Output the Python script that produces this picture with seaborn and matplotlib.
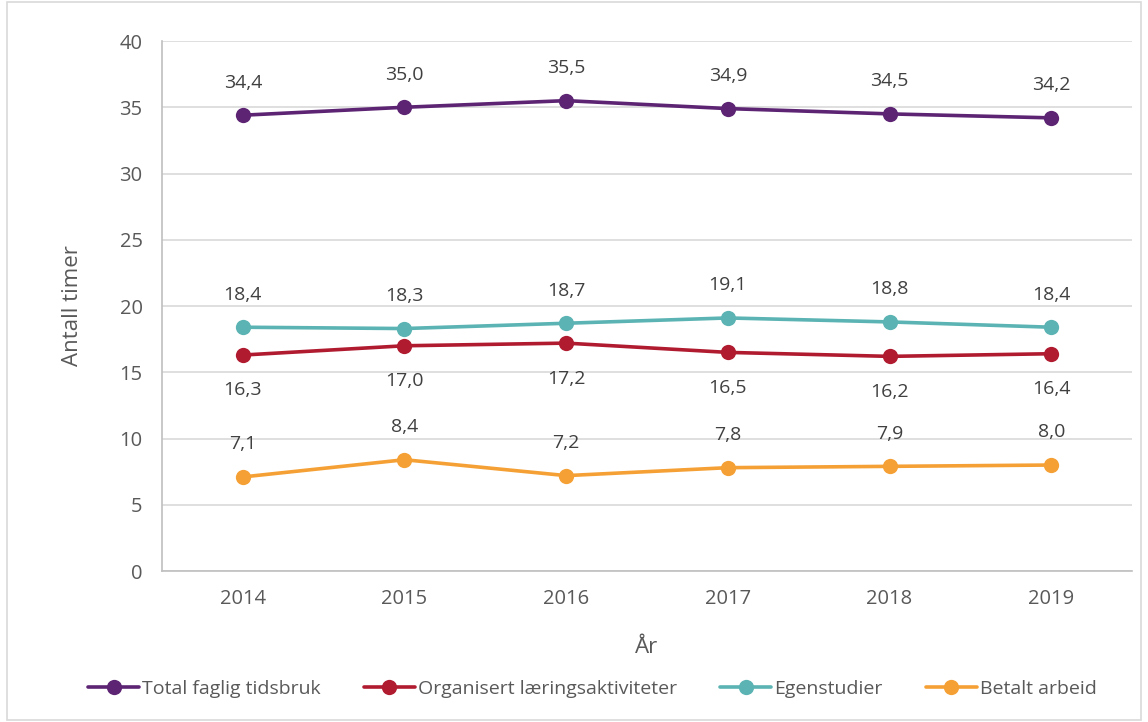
import numpy as np
import pandas as pd
import seaborn as sns
import matplotlib.pyplot as plt
from matplotlib.patches import Rectangle

## Data
years = ["2014", "2015", "2016", "2017", "2018", "2019"]
total = [34.4, 35.0, 35.5, 34.9, 34.5, 34.2]
organisert = [16.3, 17.0, 17.2, 16.5, 16.2, 16.4]
egenstudier = [18.4, 18.3, 18.7, 19.1, 18.8, 18.4]
betalt = [7.1, 8.4, 7.2, 7.8, 7.9, 8.0]

series_names = ["Total faglig tidsbruk", "Organisert læringsaktiviteter",
                "Egenstudier", "Betalt arbeid"]
series_values = [total, organisert, egenstudier, betalt]
colors = ["#5C2473", "#B01B30", "#5BB4B3", "#F5A035"]
label_above = [True, False, True, True]

df = pd.concat([pd.DataFrame({"År": years, "timer": v, "serie": n})
                for n, v in zip(series_names, series_values)], ignore_index=True)

sns.set_theme(style="white")
plt.rcParams["font.family"] = ["Open Sans", "DejaVu Sans"]
TXT = "#404040"

fig = plt.figure(figsize=(11.48, 7.22), dpi=100)
ax = fig.add_axes([0.1411, 0.2091, 0.845, 0.7341])

sns.lineplot(data=df, x="År", y="timer", hue="serie", hue_order=series_names,
             palette=colors, marker="o", markersize=11, markeredgewidth=0,
             linewidth=2.6, ax=ax, sort=False)

## Data labels
for vals, above in zip(series_values, label_above):
    for yr, v in zip(years, vals):
        txt = f"{v:.1f}".replace(".", ",")
        ax.annotate(txt, (yr, v), xytext=(0, 17 if above else -19),
                    textcoords="offset points", ha="center",
                    va="bottom" if above else "top", fontsize=14, color=TXT)

ax.set_xlim(-0.5, 5.5)
ax.set_ylim(0, 40)
ax.set_yticks(np.arange(0, 41, 5))
ax.grid(axis="y", color="#D9D9D9", linewidth=1.2)
ax.set_axisbelow(True)
for s in ["top", "right"]:
    ax.spines[s].set_visible(False)
for s in ["left", "bottom"]:
    ax.spines[s].set_color("#BFBFBF")
    ax.spines[s].set_linewidth(1.2)
ax.tick_params(axis="both", length=0, labelsize=14.5, labelcolor="#595959")
ax.tick_params(axis="x", pad=13)
ax.tick_params(axis="y", pad=14)
ax.set_xlabel("År", fontsize=16, color="#595959", labelpad=20)
ax.set_ylabel("Antall timer", fontsize=16, color="#595959", labelpad=26)

handles, labels = ax.get_legend_handles_labels()
ax.legend(handles, labels, loc="center", bbox_to_anchor=(0.516, 0.046),
          bbox_transform=fig.transFigure, ncol=4, frameon=False,
          fontsize=14, labelcolor="#595959", handlelength=2.6,
          handletextpad=0.15, columnspacing=2.25)

fig.patches.append(Rectangle((0.006, 0.003), 0.988, 0.994, transform=fig.transFigure,
                             fill=False, edgecolor="#D9D9D9", linewidth=1.2))

fig.savefig("out.png", dpi=100)
